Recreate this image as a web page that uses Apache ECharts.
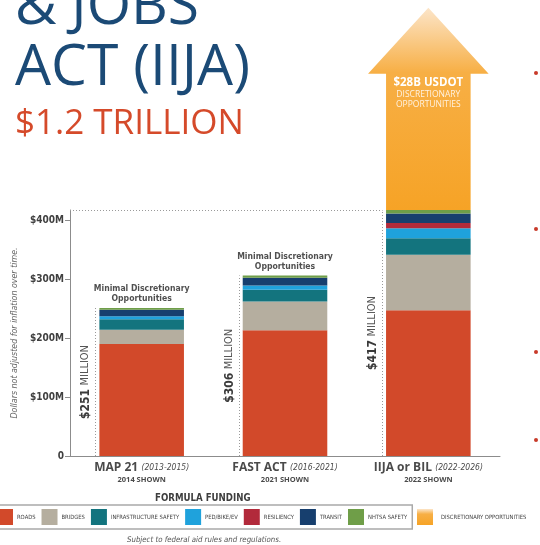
<!DOCTYPE html>
<html>
<head>
<meta charset="utf-8">
<script src="https://cdn.jsdelivr.net/npm/echarts@6/dist/echarts.min.js"></script>
<style>
  html, body { margin: 0; padding: 0; background: #fff; }
  #chart { width: 540px; height: 545px; }
</style>
</head>
<body>
<div id="chart"></div>
<script>
// values in $M
const categories = ['MAP 21', 'FAST ACT', 'IIJA or BIL']
const periods = ['(2013-2015)', '(2016-2021)', '(2022-2026)']
const shownYears = ['2014 SHOWN', '2021 SHOWN', '2022 SHOWN']
const roads = [190, 213, 247]
const bridges = [24, 49, 94]
const infraSafety = [18, 20, 28]
const pedBikeEv = [5, 7, 17]
const resiliency = [0, 0, 9]
const transit = [11, 13, 16]
const nhtsaSafety = [3, 4, 6]
const discretionary = [0, 0, 231] // the arrow, not to scale in the original
const yTicks = [0, 100, 200, 300, 400]

const NARROW = "'Liberation Sans Narrow', 'DejaVu Sans Condensed', 'Liberation Sans', sans-serif"
const BAR_FRAC = 0.59

const formula = [
  { name: 'ROADS', data: roads, color: '#d2492a' },
  { name: 'BRIDGES', data: bridges, color: '#b5ae9f' },
  { name: 'INFRASTRUCTURE SAFETY', data: infraSafety, color: '#13747e' },
  { name: 'PED/BIKE/EV', data: pedBikeEv, color: '#1fa2dc' },
  { name: 'RESILIENCY', data: resiliency, color: '#b22a3b' },
  { name: 'TRANSIT', data: transit, color: '#173f6e' },
  { name: 'NHTSA SAFETY', data: nhtsaSafety, color: '#6f9e48' }
]
const totals = categories.map((c, i) => formula.reduce((s, f) => s + f.data[i], 0))

const orangeGrad = () => new echarts.graphic.LinearGradient(0, 0, 0, 1, [
  { offset: 0, color: '#fce5c9' },
  { offset: 0.32, color: '#f7af45' },
  { offset: 1, color: '#f6a326' }
])

const chart = echarts.init(document.getElementById('chart'))

const barSeries = formula.map(f => ({
  type: 'bar',
  name: f.name,
  stack: 'formula',
  data: f.data,
  barWidth: (BAR_FRAC * 100) + '%',
  itemStyle: { color: f.color },
  emphasis: { disabled: true },
  silent: true
}))

// dotted guide lines, vertical totals and the "minimal discretionary" notes
const notesSeries = {
  type: 'custom',
  name: 'notes',
  silent: true,
  z: 5,
  data: categories.map((c, i) => [i, totals[i], discretionary[i]]),
  renderItem (params, api) {
    const i = api.value(0)
    const total = api.value(1)
    const base = api.coord([i, 0])
    const top = api.coord([i, total])
    const half = api.size([1, 0])[0] * BAR_FRAC / 2
    const lx = Math.round(base[0] - half) - 3.5
    const dotted = { stroke: '#9a9a9a', lineWidth: 1, lineDash: [1, 2] }
    const children = [
      { type: 'line', shape: { x1: lx, y1: base[1], x2: lx, y2: top[1] }, style: dotted },
      {
        type: 'text',
        x: lx - 10,
        y: (base[1] + top[1]) / 2,
        rotation: Math.PI / 2,
        style: {
          text: '{b|$' + total + '} {n|MILLION}',
          align: 'center',
          verticalAlign: 'middle',
          rich: {
            b: { fontFamily: NARROW, fontWeight: 'bold', fontSize: 12, fill: '#3a3a3a' },
            n: { fontFamily: NARROW, fontSize: 11, fill: '#555' }
          }
        }
      }
    ]
    if (api.value(2) > 0) {
      children.push({
        type: 'line',
        shape: { x1: params.coordSys.x, y1: top[1] + 0.5, x2: lx, y2: top[1] + 0.5 },
        style: dotted
      })
    } else {
      children.push({
        type: 'text',
        x: base[0],
        y: top[1] - 4,
        style: {
          text: 'Minimal Discretionary\nOpportunities',
          align: 'center',
          verticalAlign: 'bottom',
          fontFamily: NARROW,
          fontWeight: 'bold',
          fontSize: 8.6,
          lineHeight: 10,
          fill: '#505050'
        }
      })
    }
    return { type: 'group', children }
  }
}

// discretionary arrow on top of the formula stack
const arrowSeries = {
  type: 'custom',
  name: 'DISCRETIONARY OPPORTUNITIES',
  silent: true,
  itemStyle: { color: '#f6a326' },
  data: categories.map((c, i) => [i, totals[i], totals[i] + discretionary[i]]).filter(d => d[2] > d[1]),
  renderItem (params, api) {
    const i = api.value(0)
    const b = api.coord([i, api.value(1)])
    const t = api.coord([i, api.value(2)])
    const hw = api.size([1, 0])[0] * BAR_FRAC / 2
    const headW = hw + 18
    const headH = 66
    const cx = b[0]
    return {
      type: 'group',
      children: [
        {
          type: 'polygon',
          shape: {
            points: [
              [cx - hw, b[1]], [cx - hw, t[1]], [cx - headW, t[1]], [cx, t[1] - headH],
              [cx + headW, t[1]], [cx + hw, t[1]], [cx + hw, b[1]]
            ]
          },
          style: { fill: orangeGrad() }
        },
        {
          type: 'text',
          x: cx,
          y: t[1] + 3,
          style: {
            text: '$28B USDOT',
            align: 'center',
            verticalAlign: 'top',
            fontFamily: "'Open Sans', sans-serif",
            fontWeight: 'bold',
            fontSize: 11.5,
            fill: '#ffffff'
          }
        },
        {
          type: 'text',
          x: cx,
          y: t[1] + 16,
          style: {
            text: 'DISCRETIONARY\nOPPORTUNITIES',
            align: 'center',
            verticalAlign: 'top',
            fontFamily: "'Open Sans', sans-serif",
            fontSize: 8.5,
            lineHeight: 10,
            fill: '#fff2e0'
          }
        }
      ]
    }
  }
}

const legendText = { fontFamily: NARROW, fontSize: 5.8, color: '#444' }

const option = {
  animation: false,
  backgroundColor: '#ffffff',
  grid: { left: 70, right: 40, top: 210, bottom: 89 },
  legend: [
    {
      data: formula.map(f => f.name),
      selectedMode: false,
      left: -10,
      top: 505,
      padding: [4, 5, 4, 7],
      itemWidth: 16,
      itemHeight: 16,
      itemGap: 6,
      borderColor: '#a9a9a9',
      borderWidth: 1.5,
      icon: 'rect',
      textStyle: Object.assign({ padding: [0, 0, 0, -1] }, legendText)
    },
    {
      data: [{ name: 'DISCRETIONARY OPPORTUNITIES', itemStyle: { color: orangeGrad() } }],
      selectedMode: false,
      left: 413,
      top: 505,
      padding: [4, 0, 4, 4],
      itemWidth: 16,
      itemHeight: 16,
      icon: 'rect',
      textStyle: Object.assign({ padding: [0, 0, 0, 3] }, legendText)
    }
  ],
  xAxis: {
    type: 'category',
    data: categories,
    axisLine: { lineStyle: { color: '#8c8c8c', width: 1 } },
    axisTick: { inside: true, length: 7, lineStyle: { color: '#8c8c8c' } },
    axisLabel: {
      margin: 5,
      interval: 0,
      formatter: (v, i) => '{b|' + v + '} {p|' + periods[i] + '}\n{s|' + shownYears[i] + '}',
      rich: {
        b: { fontFamily: "'Open Sans', sans-serif", fontWeight: 'bold', fontSize: 12, color: '#4a4a4a', lineHeight: 13 },
        p: { fontFamily: NARROW, fontStyle: 'italic', fontSize: 8.5, color: '#4a4a4a', lineHeight: 13 },
        s: { fontFamily: "'Open Sans', sans-serif", fontWeight: 'bold', fontSize: 7.5, color: '#4a4a4a', lineHeight: 12 }
      }
    }
  },
  yAxis: {
    type: 'value',
    min: 0,
    max: Math.max(...totals),
    interval: 100,
    name: 'Dollars not adjusted for inflation over time.',
    nameLocation: 'middle',
    nameRotate: 90,
    nameGap: 51,
    nameTextStyle: { fontFamily: NARROW, fontStyle: 'italic', fontSize: 8.8, color: '#666' },
    axisLine: { show: true, lineStyle: { color: '#8c8c8c', width: 1 } },
    axisTick: { show: true, length: 5, customValues: yTicks, lineStyle: { color: '#8c8c8c' } },
    axisLabel: {
      customValues: yTicks,
      margin: 6,
      formatter: v => (v === 0 ? '0' : '$' + v + 'M'),
      fontFamily: NARROW,
      fontWeight: 'bold',
      fontSize: 10,
      color: '#404040'
    },
    splitLine: { show: false }
  },
  graphic: [
    { type: 'text', left: 15, top: -21, style: { text: '& JOBS', fontFamily: "'Open Sans', sans-serif", fontSize: 57, fill: '#1b4a76' } },
    { type: 'text', left: 15, top: 40, style: { text: 'ACT (IIJA)', fontFamily: "'Open Sans', sans-serif", fontSize: 57, fill: '#1b4a76' } },
    { type: 'text', left: 15, top: 107, style: { text: '$1.2 TRILLION', fontFamily: "'Open Sans', sans-serif", fontSize: 35, fill: '#d54a2a' } },
    { type: 'text', left: 155, top: 493, style: { text: 'FORMULA FUNDING', fontFamily: NARROW, fontWeight: 'bold', fontSize: 9.6, fill: '#3e3e3e' } },
    { type: 'text', left: 127, top: 536, style: { text: 'Subject to federal aid rules and regulations.', fontFamily: NARROW, fontStyle: 'italic', fontSize: 7.8, fill: '#555' } },
    { type: 'circle', shape: { cx: 536, cy: 73, r: 2 }, style: { fill: '#c83a2a' } },
    { type: 'circle', shape: { cx: 536, cy: 229, r: 2 }, style: { fill: '#c83a2a' } },
    { type: 'circle', shape: { cx: 536, cy: 352, r: 2 }, style: { fill: '#c83a2a' } },
    { type: 'circle', shape: { cx: 536, cy: 440, r: 2 }, style: { fill: '#c83a2a' } }
  ],
  series: barSeries.concat([notesSeries, arrowSeries])
}

chart.setOption(option)
</script>
</body>
</html>
